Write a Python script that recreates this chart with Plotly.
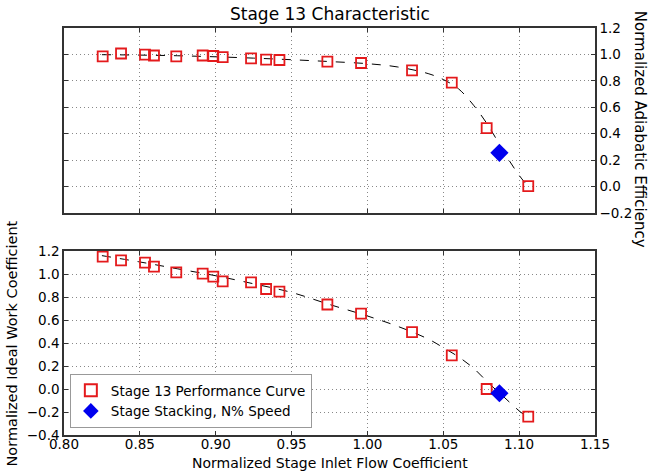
import plotly.graph_objects as go

flow = [0.8255, 0.8376, 0.8534, 0.8593, 0.874, 0.8914, 0.8984, 0.9046, 0.9233,
        0.9332, 0.942, 0.9736, 0.9958, 1.0294, 1.0556, 1.0786, 1.106]
efficiency = [0.985, 1.007, 0.998, 0.992, 0.985, 0.992, 0.988, 0.980, 0.970,
              0.960, 0.958, 0.945, 0.935, 0.879, 0.786, 0.442, 0.003]
work = [1.151, 1.119, 1.099, 1.064, 1.015, 1.003, 0.977, 0.937, 0.928,
        0.870, 0.847, 0.735, 0.656, 0.494, 0.292, 0.0, -0.240]

# Fitted curve (dashed line)
fit_flow = [0.825, 0.85, 0.875, 0.9, 0.925, 0.95, 0.975, 1.0, 1.02, 1.04,
            1.05, 1.06, 1.07, 1.08, 1.09, 1.1, 1.106]
fit_eff = [0.998, 0.995, 0.99, 0.982, 0.972, 0.96, 0.946, 0.93, 0.905, 0.855,
           0.81, 0.74, 0.615, 0.455, 0.26, 0.085, 0.0]
fit_work = [1.16, 1.105, 1.045, 0.985, 0.915, 0.84, 0.735, 0.635, 0.545, 0.435,
            0.36, 0.28, 0.18, 0.05, -0.07, -0.19, -0.25]

# Stage stacking operating point
stack_flow = [1.087]
stack_eff = [0.255]
stack_work = [-0.037]

x_ticks = [0.80, 0.85, 0.90, 0.95, 1.00, 1.05, 1.10, 1.15]
eff_ticks = [-0.2, 0.0, 0.2, 0.4, 0.6, 0.8, 1.0, 1.2]
work_ticks = [-0.4, -0.2, 0.0, 0.2, 0.4, 0.6, 0.8, 1.0, 1.2]

FONT = "DejaVu Sans"
sq = dict(symbol="square-open", size=10, color="#e41a1c", line=dict(width=1.8, color="#e41a1c"))
dm = dict(symbol="diamond", size=14, color="#0000ee", line=dict(width=0))
dash = dict(color="black", width=1, dash="dash")

fig = go.Figure()
# Top panel
fig.add_trace(go.Scatter(x=fit_flow, y=fit_eff, mode="lines", line=dash, line_shape="spline",
                         showlegend=False, xaxis="x", yaxis="y"))
fig.add_trace(go.Scatter(x=flow, y=efficiency, mode="markers", marker=sq,
                         showlegend=False, xaxis="x", yaxis="y"))
fig.add_trace(go.Scatter(x=stack_flow, y=stack_eff, mode="markers", marker=dm,
                         showlegend=False, xaxis="x", yaxis="y"))
# Bottom panel
fig.add_trace(go.Scatter(x=fit_flow, y=fit_work, mode="lines", line=dash, line_shape="spline",
                         showlegend=False, xaxis="x2", yaxis="y2"))
fig.add_trace(go.Scatter(x=flow, y=work, mode="markers", marker=sq,
                         name="Stage 13 Performance Curve", xaxis="x2", yaxis="y2"))
fig.add_trace(go.Scatter(x=stack_flow, y=stack_work, mode="markers", marker=dm,
                         name="Stage Stacking, N% Speed", xaxis="x2", yaxis="y2"))

axis_common = dict(showline=True, linecolor="#333", linewidth=1.5, mirror="ticks",
                   ticks="inside", ticklen=4, tickcolor="#333",
                   showgrid=True, gridcolor="#888", griddash="1px,3px", gridwidth=1,
                   zeroline=False, tickfont=dict(family=FONT, size=13.5, color="black"))

fig.update_layout(
    width=651, height=473,
    margin=dict(l=64, r=56, t=28, b=38),
    paper_bgcolor="white", plot_bgcolor="white",
    font=dict(family=FONT, color="black"),
    xaxis=dict(domain=[0, 1], anchor="y", range=[0.80, 1.15], tickvals=x_ticks,
               showticklabels=False, **axis_common),
    yaxis=dict(domain=[0.5455, 1], anchor="x", side="right", range=[-0.2, 1.2],
               tickvals=eff_ticks, tickformat=".1f", **axis_common),
    xaxis2=dict(domain=[0, 1], anchor="y2", range=[0.80, 1.15], tickvals=x_ticks,
                tickformat=".2f", ticklabelstandoff=-4, **axis_common),
    yaxis2=dict(domain=[0, 0.452], anchor="x2", range=[-0.4, 1.2],
                tickvals=work_ticks, tickformat=".1f", **axis_common),
    legend=dict(x=0.011, y=0.017, xanchor="left", yanchor="bottom",
                bgcolor="white", bordercolor="#999", borderwidth=1,
                font=dict(family=FONT, size=13.5, color="black"),
                tracegroupgap=0, itemsizing="constant"),
    annotations=[
        dict(text="Stage 13 Characteristic", xref="paper", yref="paper", x=0.5, y=1.034,
             showarrow=False, font=dict(family=FONT, size=17), xanchor="center", yanchor="middle"),
        dict(text="Normalized Adiabatic Efficiency", xref="paper", yref="paper", x=1.0847, y=0.75,
             showarrow=False, textangle=90, font=dict(family=FONT, size=15),
             xanchor="center", yanchor="middle"),
        dict(text="Normalized Ideal Work Coefficient", xref="paper", yref="paper", x=-0.097, y=0.226,
             showarrow=False, textangle=-90, font=dict(family=FONT, size=14.5),
             xanchor="center", yanchor="middle"),
        dict(text="Normalized Stage Inlet Flow Coefficient", xref="paper", yref="paper", x=0.5, y=-0.068,
             showarrow=False, font=dict(family=FONT, size=14),
             xanchor="center", yanchor="middle"),
    ],
)

fig.write_html("out.html", config={"displayModeBar": False})

# remove the default page margin so the figure sits at the window's top-left corner
with open("out.html", "r", encoding="utf-8") as f:
    html = f.read()
html = html.replace("<body>", '<body style="margin:0;padding:0;">', 1)
with open("out.html", "w", encoding="utf-8") as f:
    f.write(html)
